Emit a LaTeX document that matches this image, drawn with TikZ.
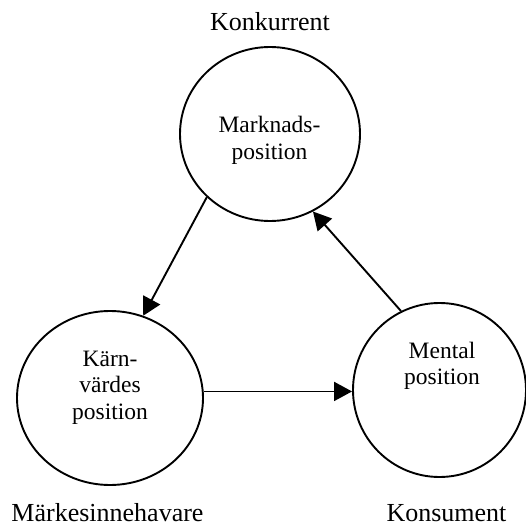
\documentclass[tikz,border=0pt]{standalone}
\usepackage{fontspec}
\setmainfont{Liberation Serif}
\usetikzlibrary{shapes.geometric,arrows.meta}
\begin{document}
\begin{tikzpicture}[x=1pt,y=-1pt,
  posbox/.style={draw=black,line width=1.9pt,ellipse,inner sep=0pt},
  inner/.style={align=center,font=\fontsize{23.5}{26.5}\selectfont,inner sep=0pt},
  role/.style={anchor=base,font=\fontsize{26}{30}\selectfont,inner sep=0pt},
  flow/.style={line width=1.9pt,-{Triangle[length=18pt,width=19pt]}}]
\useasboundingbox (0,0) rectangle (526,526);
% the three positions
\node[posbox,minimum width=180pt,minimum height=174pt] (mkt) at (270,134) {};
\node[posbox,minimum width=186pt,minimum height=174pt] (core) at (110,398) {};
\node[posbox,minimum width=173pt,minimum height=174pt] (ment) at (439.5,390) {};
% texts inside
\node[inner] (tmkt) at (269.5,140.5) {Marknads-\\position};
\node[inner] (tcore) at (110,387.5) {Kärn-\\värdes\\position};
\node[inner] (tment) at (442,366) {Mental\\position};
% actors
\node[role] (konk) at (270,31) {Konkurrent};
\node[role] (mark) at (107.5,521) {Märkesinnehavare};
\node[role] (kons) at (446.5,521) {Konsument};
% connectors
\draw[flow] (mkt.225.4) -- (core.68.7);
\draw[flow] (core.4) -- (core.4 -| ment.west);
\draw[flow] (ment.116) -- (mkt.299.4);
\end{tikzpicture}
\end{document}
